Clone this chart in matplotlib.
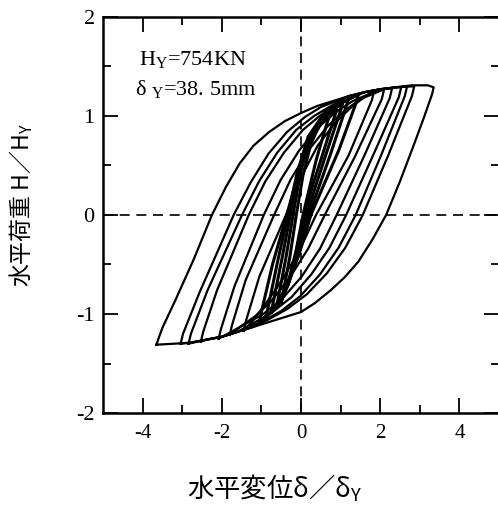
import matplotlib
matplotlib.use('Agg')
import matplotlib.pyplot as plt

plt.rcParams['font.family'] = ['Liberation Serif', 'DejaVu Serif']
plt.rcParams['mathtext.fontset'] = 'custom'
plt.rcParams['mathtext.rm'] = 'Liberation Serif'
plt.rcParams['axes.unicode_minus'] = False

# shared skeleton curves (upper and lower envelope)
TOP_X = [-0.4, 0.0, 0.4, 0.8, 1.2, 1.6, 2.0, 2.4, 2.8, 3.2]
TOP_Y = [0.95, 1.03, 1.10, 1.15, 1.20, 1.24, 1.27, 1.29, 1.31, 1.31]
BOT_X = [0.0, -0.4, -0.8, -1.2, -1.6, -2.0, -2.4, -2.8, -3.2, -3.6]
BOT_Y = [-0.98, -1.03, -1.08, -1.13, -1.18, -1.23, -1.26, -1.29, -1.30, -1.31]

# loops: ascending (left) and descending (right) branches
A_UP = [(-3.65, -1.31), (-3.60, -1.25), (-3.50, -1.14), (-3.16, -0.85), (-2.70, -0.44), (-2.25, 0.0),
        (-1.90, 0.28), (-1.55, 0.52), (-1.20, 0.70), (-0.80, 0.84)]
A_DOWN = [(3.35, 1.29), (3.31, 1.22), (3.10, 0.98), (2.86, 0.72), (2.50, 0.34), (2.15, 0.0),
          (1.80, -0.25), (1.45, -0.47), (1.10, -0.63), (0.75, -0.76), (0.35, -0.89)]

B_UP = [(-3.04, -1.30), (-2.98, -1.20), (-2.56, -0.78), (-1.70, 0.0), (-1.27, 0.33), (-0.82, 0.62), (-0.35, 0.84), (0.1, 0.99), (0.5, 1.09)]
B_DOWN = [(2.86, 1.30), (2.80, 1.20), (2.20, 0.60), (1.56, 0.0), (1.12, -0.33), (0.65, -0.59), (0.15, -0.80), (-0.35, -0.95), (-0.8, -1.05)]

C_UP = [(-2.84, -1.30), (-2.78, -1.20), (-2.36, -0.76), (-1.49, 0.0), (-1.06, 0.34), (-0.6, 0.63), (-0.12, 0.86), (0.33, 1.0), (0.75, 1.1)]
C_DOWN = [(2.68, 1.30), (2.62, 1.20), (2.02, 0.60), (1.38, 0.0), (0.95, -0.33), (0.48, -0.60), (-0.02, -0.82), (-0.5, -0.97), (-0.95, -1.07)]

D_UP = [(-2.53, -1.28), (-2.47, -1.18), (-2.12, -0.76), (-1.32, 0.0), (-0.9, 0.34), (-0.43, 0.63), (0.05, 0.86), (0.5, 1.01), (0.92, 1.11)]
D_DOWN = [(2.53, 1.29), (2.47, 1.19), (1.84, 0.62), (1.14, 0.0), (0.72, -0.33), (0.26, -0.60), (-0.24, -0.83), (-0.72, -0.98), (-1.15, -1.08)]

E_UP = [(-2.08, -1.25), (-2.02, -1.15), (-1.68, -0.72), (-0.94, 0.0), (-0.52, 0.35), (-0.05, 0.65), (0.42, 0.88), (0.88, 1.04), (1.3, 1.15)]
E_DOWN = [(2.30, 1.28), (2.24, 1.18), (1.60, 0.60), (0.90, 0.0), (0.48, -0.34), (0.02, -0.62), (-0.48, -0.85), (-0.95, -1.0), (-1.4, -1.1)]

F_UP = [(-1.80, -1.21), (-1.74, -1.11), (-1.40, -0.66), (-0.68, 0.0), (-0.26, 0.36), (0.2, 0.66), (0.68, 0.90), (1.12, 1.06), (1.5, 1.17)]
F_DOWN = [(2.10, 1.27), (2.04, 1.17), (1.35, 0.58), (0.60, 0.0), (0.18, -0.34), (-0.28, -0.63), (-0.75, -0.87), (-1.15, -1.02), (-1.5, -1.12)]

G_UP = [(-1.45, -1.17), (-1.39, -1.07), (-1.05, -0.62), (-0.38, 0.0), (0.0, 0.38), (0.42, 0.70), (0.88, 0.94), (1.3, 1.10), (1.6, 1.19)]
G_DOWN = [(1.85, 1.26), (1.79, 1.16), (1.20, 0.60), (0.38, 0.0), (-0.02, -0.34), (-0.45, -0.64), (-0.9, -0.90), (-1.2, -1.06)]

# narrow repeated cycles forming the dark band near the origin
S5_UP = [(-1.05, -1.08), (-1.0, -0.98), (-0.72, -0.50), (-0.36, 0.0), (-0.08, 0.40), (0.25, 0.76), (0.7, 1.04), (1.1, 1.15)]
S5_DOWN = [(1.45, 1.22), (1.38, 1.12), (0.95, 0.65), (0.55, 0.28), (0.25, 0.0), (-0.05, -0.40), (-0.38, -0.74), (-0.7, -0.96)]

S4_UP = [(-0.88, -1.03), (-0.83, -0.93), (-0.58, -0.45), (-0.33, 0.0), (-0.10, 0.42), (0.18, 0.79), (0.62, 1.05)]
S4_DOWN = [(1.2, 1.17), (1.12, 1.07), (0.75, 0.62), (0.45, 0.28), (0.20, 0.0), (-0.05, -0.38), (-0.34, -0.72), (-0.62, -0.94)]

S3_UP = [(-0.75, -0.98), (-0.70, -0.88), (-0.48, -0.44), (-0.27, 0.0), (-0.06, 0.42), (0.20, 0.78), (0.6, 1.02)]
S3_DOWN = [(1.05, 1.12), (0.97, 1.02), (0.62, 0.60), (0.36, 0.28), (0.15, 0.0), (-0.07, -0.37), (-0.32, -0.70), (-0.55, -0.90)]

S2_UP = [(-0.62, -0.93), (-0.57, -0.83), (-0.38, -0.43), (-0.20, 0.0), (-0.02, 0.42), (0.22, 0.76), (0.55, 0.98)]
S2_DOWN = [(0.9, 1.06), (0.82, 0.96), (0.52, 0.58), (0.28, 0.28), (0.10, 0.0), (-0.10, -0.36), (-0.32, -0.68)]

S1_UP = [(-0.5, -0.88), (-0.45, -0.78), (-0.28, -0.42), (-0.12, 0.0), (0.05, 0.40), (0.25, 0.72), (0.48, 0.92)]
S1_DOWN = [(0.7, 0.98), (0.62, 0.88), (0.38, 0.55), (0.20, 0.25), (0.05, 0.0), (-0.12, -0.35), (-0.30, -0.65)]

BIG_LOOPS = [(A_UP, A_DOWN), (B_UP, B_DOWN), (C_UP, C_DOWN), (D_UP, D_DOWN), (E_UP, E_DOWN),
             (F_UP, F_DOWN), (G_UP, G_DOWN)]
SMALL_LOOPS = [(S5_UP, S5_DOWN), (S4_UP, S4_DOWN), (S3_UP, S3_DOWN), (S2_UP, S2_DOWN), (S1_UP, S1_DOWN)]


def build_loop(up, down):
    peak = down[0]
    start = up[0]
    pts = list(up)
    # follow the upper skeleton between where the branch joins it and the peak
    pts += [(x, y) for x, y in zip(TOP_X, TOP_Y) if up[-1][0] + 0.3 < x < peak[0] - 0.1]
    pts += list(down)
    pts += [(x, y) for x, y in zip(BOT_X, BOT_Y) if start[0] + 0.1 < x < down[-1][0] - 0.3]
    pts.append(start)
    return [p[0] for p in pts], [p[1] for p in pts]


fig = plt.figure(figsize=(4.98, 5.09), dpi=100)
ax = fig.add_axes([103 / 498, 1 - 413 / 509, 396 / 498, 396 / 509])

for up, down in BIG_LOOPS:
    xs, ys = build_loop(up, down)
    ax.plot(xs, ys, color='black', lw=1.6, solid_joinstyle='round')
for up, down in SMALL_LOOPS:
    xs, ys = build_loop(up, down)
    ax.plot(xs, ys, color='black', lw=2.2, solid_joinstyle='round')

ax.axhline(0, color='black', lw=1.2, ls=(0, (6, 4)), zorder=0)
ax.axvline(0, color='black', lw=1.2, ls=(0, (6, 4)), zorder=0)

ax.set_xlim(-5, 5)
ax.set_ylim(-2, 2)
ax.set_xticks([-4, -2, 0, 2, 4])
ax.set_xticks([-3, -1, 1, 3], minor=True)
ax.set_yticks([-2, -1, 0, 1, 2])
ax.set_yticks([-1.5, -0.5, 0.5, 1.5], minor=True)
ax.tick_params(which='both', direction='in', top=True, right=True, width=1.3, labelsize=15, colors='black')
ax.tick_params(which='major', length=11)
ax.tick_params(which='minor', length=5.5)
ax.tick_params(axis='x', pad=8)
ax.tick_params(axis='y', pad=6, labelsize=16)
for s in ax.spines.values():
    s.set_linewidth(1.8)

ax.text(-4.1, 1.56, 'H$_\\mathregular{Y}$=754KN', fontsize=16, va='center', ha='left')
ax.text(-4.2, 1.27, 'δ $_\\mathregular{Y}$=38. 5mm', fontsize=16, va='center', ha='left')

cjk = ['Noto Sans CJK JP', 'DejaVu Sans']
fig.text(21 / 498, 1 - 205 / 509, '水平荷重 H／H$_\\mathregular{Y}$', family=cjk, fontsize=16.5,
         rotation=90, ha='center', va='center')
fig.text(275 / 498, 1 - 488 / 509, '水平変位δ／δ$_\\mathregular{Y}$', family=cjk, fontsize=19,
         ha='center', va='center')

fig.savefig('out.png', dpi=100)
